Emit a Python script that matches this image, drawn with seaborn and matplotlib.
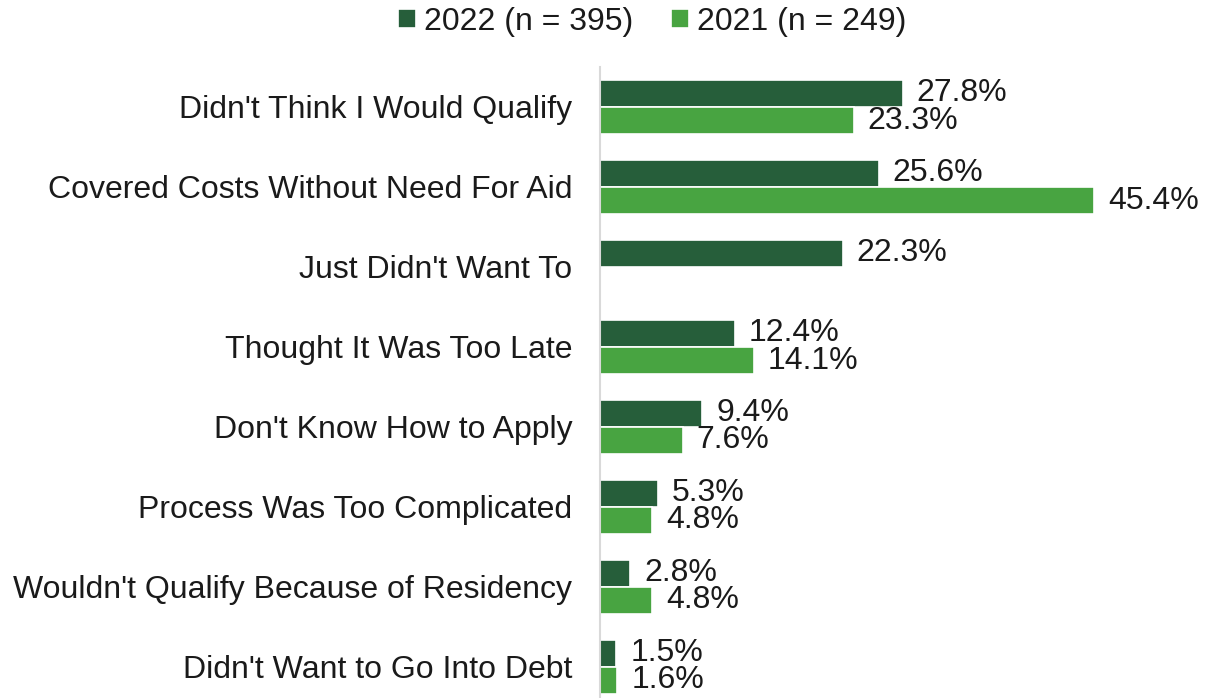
import numpy as np
import pandas as pd
import matplotlib
matplotlib.use('Agg')
import matplotlib.pyplot as plt
import seaborn as sns

# Data
reasons = ["Didn't Think I Would Qualify",
           "Covered Costs Without Need For Aid",
           "Just Didn't Want To",
           "Thought It Was Too Late",
           "Don't Know How to Apply",
           "Process Was Too Complicated",
           "Wouldn't Qualify Because of Residency",
           "Didn't Want to Go Into Debt"]
pct_2022 = [27.8, 25.6, 22.3, 12.4, 9.4, 5.3, 2.8, 1.5]
pct_2021 = [23.3, 45.4, np.nan, 14.1, 7.6, 4.8, 4.8, 1.6]
series = ['2022 (n = 395)', '2021 (n = 249)']

df = pd.concat([
    pd.DataFrame({'reason': reasons, 'pct': pct_2022, 'year': series[0]}),
    pd.DataFrame({'reason': reasons, 'pct': pct_2021, 'year': series[1]}),
], ignore_index=True)

sns.set_style("white")
plt.rcParams['font.family'] = ['Liberation Sans', 'DejaVu Sans']

fig = plt.figure(figsize=(12.08, 6.98), dpi=100)
ax = fig.add_axes([600/1208, 0.0, 599/1208, 1 - 67/698])

sns.barplot(data=df, y='reason', x='pct', hue='year', orient='h',
            palette=['#265E3A', '#48A441'], saturation=1, width=0.68,
            edgecolor='white', linewidth=1.2, ax=ax, legend=True)

for cont in ax.containers:
    vals = [b.get_width() for b in cont]
    labels = ['' if np.isnan(v) else '%.1f%%' % v for v in vals]
    ax.bar_label(cont, labels=labels, padding=10, fontsize=23, color='#1a1a1a')

ax.set_xlim(0, 55)
ax.set_ylim(7.39, -0.5)
ax.set_xlabel('')
ax.set_ylabel('')
ax.set_xticks([])
ax.tick_params(axis='y', length=0, pad=20, labelsize=23, labelcolor='#1a1a1a')
for s in ['top', 'right', 'bottom']:
    ax.spines[s].set_visible(False)
ax.spines['left'].set_color('#D9D9D9')
ax.spines['left'].set_linewidth(1.5)

ax.legend_.remove()
handles, labels = ax.get_legend_handles_labels()
fig.legend(handles, labels, loc='center', bbox_to_anchor=(652/1208, 1 - 22/698),
           ncol=2, frameon=False, fontsize=23, handlelength=0.55, handleheight=0.55,
           handletextpad=0.25, columnspacing=1.2, labelcolor='#1a1a1a')

plt.savefig('out.png', dpi=100)
